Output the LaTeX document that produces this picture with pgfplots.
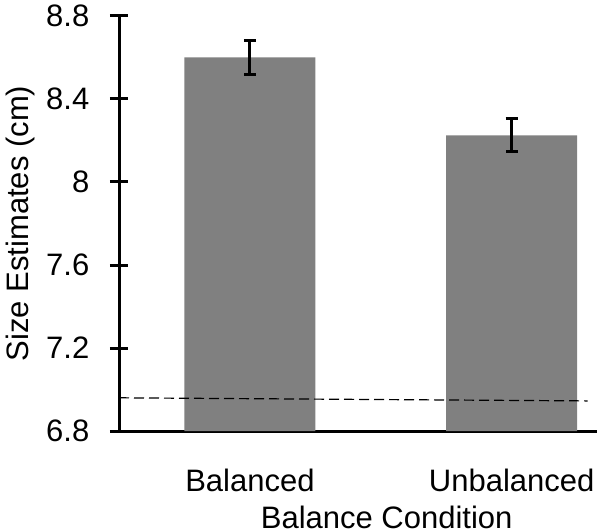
\documentclass[border=0pt]{standalone}
\usepackage{pgfplots}
\pgfplotsset{compat=1.18}
\usepackage{fontspec}
\setmainfont{Liberation Sans}
\definecolor{barfill}{RGB}{128,128,128}

\begin{document}
\fontsize{15.5pt}{18pt}\selectfont
\begin{tikzpicture}
\begin{axis}[
    name=ax,
    scale only axis,
    width=239pt,
    height=207.5pt,
    xmin=-0.5, xmax=1.326,
    ymin=6.8, ymax=8.8,
    axis x line*=bottom,
    axis y line*=left,
    axis line style={line width=1.5pt},
    xtick=data,
    xticklabels={Balanced,Unbalanced},
    xtick style={draw=none},
    xticklabel style={yshift=-9pt},
    ytick={6.8,7.2,7.6,8,8.4,8.8},
    yticklabels={6.8,7.2,7.6,8,8.4,8.8},
    yticklabel style={xshift=-5pt},
    tick align=center,
    major tick length=9pt,
    ytick style={line width=1.5pt, black},
    xlabel={Balance Condition},
    ylabel={Size Estimates (cm)},
    xlabel style={at={(axis description cs:0.56,-0.208)}, anchor=center},
    ylabel style={at={(axis description cs:-0.207,0.5)}, anchor=center},
    clip=false,
]
\addplot[ybar, bar width=65.5pt, fill=barfill, draw=none,
    error bars/.cd, y dir=both, y explicit,
    error bar style={line width=1.5pt, black},
    error mark options={rotate=90, mark size=3pt, line width=1.5pt, black}]
    coordinates {
    (0,8.60) +- (0,0.08)
    (1,8.225) +- (0,0.08)
};
\addplot[black, line width=0.6pt, dash pattern=on 5pt off 2.5pt]
    coordinates {(-0.5,6.96) (1.29,6.945)};
\end{axis}
\pgfresetboundingbox
\path ([shift={(-59.5pt,-49pt)}]ax.south west) rectangle ([shift={(2.5pt,8pt)}]ax.north east);
\end{tikzpicture}
\end{document}
